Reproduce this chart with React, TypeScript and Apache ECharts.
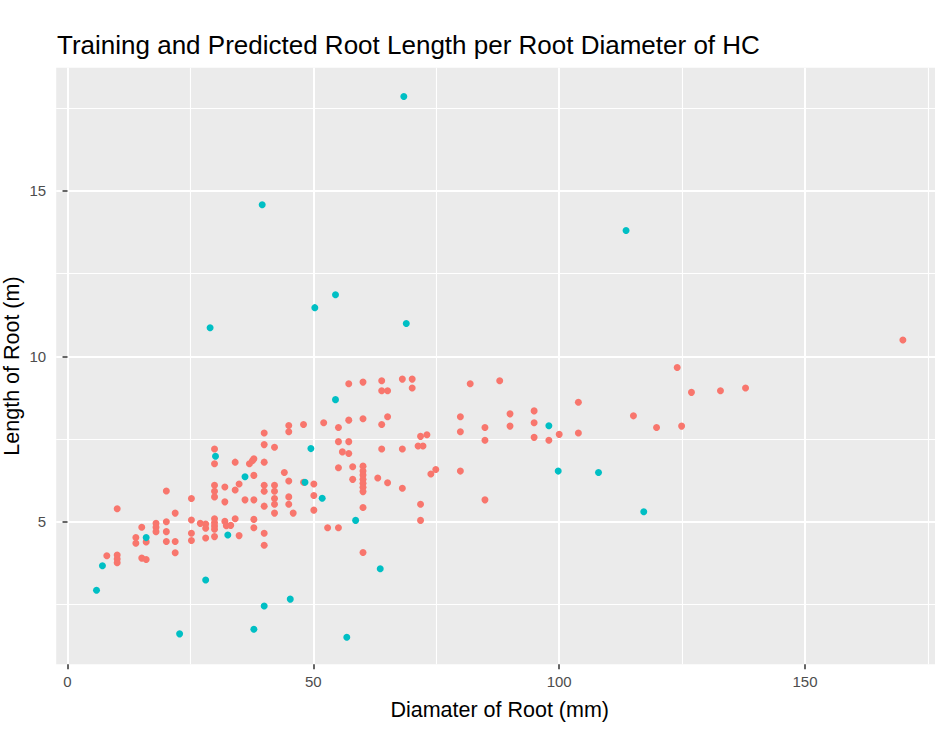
import React, { useEffect, useRef } from "react";
import * as echarts from "echarts";

// Training (observed) points: diameter (mm) and length (m)
const trainDiameter = [
  29.9, 29.9, 34.1, 37.0, 37.6, 37.9, 40.0, 40.0, 42.1, 37.9, 44.1, 45.0, 48.0, 20.1, 10.1, 25.2, 21.9,
  29.9, 29.9, 29.9, 32.0, 32.0, 34.1, 34.9, 36.1, 37.9, 40.0, 40.0, 40.0, 42.1, 42.1, 42.1, 42.1, 42.1,
  45.0, 45.0, 45.9, 15.1, 18.0, 18.0, 18.0, 20.1, 20.1, 20.1, 21.9, 21.9, 13.9, 13.9, 16.0, 8.0, 10.1,
  10.1, 10.1, 15.1, 16.0, 25.2, 25.2, 25.2, 27.0, 28.1, 28.1, 28.1, 29.9, 29.9, 29.9, 29.9, 29.9, 32.0,
  32.3, 33.2, 34.1, 34.9, 37.9, 37.9, 40.0, 40.0,
  57.2, 60.1, 63.9, 63.9, 65.1, 68.1, 70.1, 70.1, 40.0, 45.0, 45.0, 48.0, 52.1, 55.1, 57.2, 60.1, 63.9,
  65.1, 55.1, 57.2, 55.9, 57.2, 63.9, 68.1, 71.8, 73.1, 71.3, 72.3, 50.1, 50.1, 50.1, 52.9, 55.1, 60.1,
  60.1, 60.1, 60.1, 60.1, 60.1, 60.1, 60.1, 60.1, 58.0, 55.1, 58.0, 63.1, 65.1, 68.1, 71.8, 71.8,
  81.9, 87.9, 124.0, 126.9, 132.8, 137.9, 79.9, 79.9, 84.9, 84.9, 90.0, 90.0, 94.9, 94.9, 94.9, 97.9,
  100.0, 103.9, 103.9, 115.1, 119.8, 124.9, 73.9, 74.9, 79.9, 84.9, 169.9,
];
const trainLength = [
  7.2, 6.75, 6.8, 6.75, 6.84, 6.9, 7.33, 6.8, 7.25, 6.4, 6.49, 6.23, 6.19, 5.93, 5.39, 5.7, 5.26,
  6.1, 5.92, 5.75, 6.05, 5.6, 5.96, 6.14, 5.66, 5.66, 6.1, 5.92, 5.47, 6.1, 5.92, 5.7, 5.53, 5.26,
  5.75, 5.53, 5.26, 4.83, 4.95, 4.83, 4.7, 5.0, 4.7, 4.4, 4.4, 4.06, 4.52, 4.35, 4.39, 3.97, 3.99,
  3.87, 3.76, 3.9, 3.86, 5.05, 4.65, 4.43, 4.95, 4.93, 4.8, 4.51, 5.09, 4.97, 4.87, 4.77, 4.55, 5.01,
  4.88, 4.89, 5.09, 4.58, 5.07, 4.82, 4.65, 4.29,
  9.17, 9.22, 9.26, 8.96, 8.96, 9.31, 9.31, 9.04, 7.68, 7.91, 7.72, 7.94, 7.99, 7.85, 8.07, 8.11, 7.94,
  8.17, 7.42, 7.42, 7.11, 7.06, 7.2, 7.2, 7.58, 7.63, 7.29, 7.29, 6.14, 5.79, 5.35, 4.82, 4.82, 4.07,
  5.43, 6.68, 6.53, 6.41, 6.28, 6.16, 6.04, 5.91, 6.66, 6.63, 6.28, 6.32, 6.18, 6.01, 5.53, 5.04,
  9.17, 9.26, 9.66, 8.91, 8.96, 9.04, 8.17, 7.72, 7.85, 7.46, 8.26, 7.89, 8.35, 7.99, 7.55, 7.46,
  7.64, 8.61, 7.68, 8.2, 7.85, 7.89, 6.44, 6.58, 6.53, 5.66, 10.49,
];

// Predicted points
const predDiameter = [
  68.4, 39.6, 113.6, 54.5, 50.3, 29.0, 68.9, 54.5, 97.9, 30.1, 49.5, 36.1, 48.3, 51.8, 58.6, 99.8,
  108.0, 117.2, 16.0, 32.6, 7.1, 5.9, 28.1, 45.3, 40.0, 37.9, 22.8, 63.6, 56.8,
];
const predLength = [
  17.85, 14.58, 13.8, 11.86, 11.47, 10.86, 10.99, 8.69, 7.9, 6.98, 7.21, 6.36, 6.19, 5.71, 5.04, 6.53,
  6.49, 5.3, 4.52, 4.6, 3.67, 2.93, 3.24, 2.66, 2.45, 1.75, 1.61, 3.58, 1.51,
];

const xMajorTicks = [0, 50, 100, 150];
const xMinorTicks = [25, 75, 125, 175];
const yMajorTicks = [5, 10, 15];
const yMinorTicks = [2.5, 7.5, 12.5, 17.5];

const TITLE = "Training and Predicted Root Length per Root Diameter of HC";
const X_TITLE = "Diamater of Root (mm)";
const Y_TITLE = "Length of Root (m)";

export default function App() {
  const ref = useRef<HTMLDivElement>(null);

  useEffect(() => {
    if (!ref.current) return;
    const chart = echarts.init(ref.current, undefined, { renderer: "svg" });
    const font = "'Liberation Sans', Arial, sans-serif";
    const xMin = -2.3;
    const xMax = 178.1;
    const yMin = 0.69;
    const yMax = 18.72;

    const trainData = trainDiameter.map((d, i) => [d, trainLength[i]]);
    const predData = predDiameter.map((d, i) => [d, predLength[i]]);

    chart.setOption({
      animation: false,
      backgroundColor: "#ffffff",
      title: {
        text: TITLE,
        left: 52,
        top: 27,
        textStyle: { fontFamily: font, fontSize: 26, fontWeight: "normal", color: "#000000" },
      },
      grid: [
        {
          left: 56.2,
          top: 67.8,
          width: 887,
          height: 596.5,
          containLabel: false,
          outerBoundsMode: "none",
          show: true,
          backgroundColor: "#EBEBEB",
          borderWidth: 0,
        },
      ],
      xAxis: [
        {
          type: "value",
          min: xMin,
          max: xMax,
          position: "bottom",
          name: X_TITLE,
          nameLocation: "middle",
          nameGap: 35,
          nameMoveOverlap: false,
          nameTextStyle: { fontFamily: font, fontSize: 21.5, color: "#000000" },
          axisLine: { show: false },
          axisTick: {
            show: true,
            length: 5,
            customValues: xMajorTicks,
            lineStyle: { color: "#333333", width: 1.5 },
          },
          axisLabel: {
            customValues: xMajorTicks,
            color: "#4D4D4D",
            fontFamily: font,
            fontSize: 15,
            margin: 10,
          },
          splitLine: { show: true, lineStyle: { color: "#FFFFFF", width: 2 } },
        },
        {
          type: "value",
          min: xMin,
          max: xMax,
          position: "top",
          axisLine: { show: false },
          axisTick: { show: false, customValues: xMinorTicks },
          axisLabel: { show: false, customValues: xMinorTicks },
          splitLine: { show: true, lineStyle: { color: "#FFFFFF", width: 1.1 } },
        },
      ],
      yAxis: [
        {
          type: "value",
          min: yMin,
          max: yMax,
          position: "left",
          name: Y_TITLE,
          nameLocation: "middle",
          nameRotate: 90,
          nameGap: 33,
          nameMoveOverlap: false,
          nameTextStyle: { fontFamily: font, fontSize: 21.5, color: "#000000" },
          axisLine: { show: false },
          axisTick: {
            show: true,
            length: 5,
            customValues: yMajorTicks,
            lineStyle: { color: "#333333", width: 1.5 },
          },
          axisLabel: {
            customValues: yMajorTicks,
            color: "#4D4D4D",
            fontFamily: font,
            fontSize: 15,
            margin: 10,
          },
          splitLine: { show: true, lineStyle: { color: "#FFFFFF", width: 2 } },
        },
        {
          type: "value",
          min: yMin,
          max: yMax,
          position: "right",
          axisLine: { show: false },
          axisTick: { show: false, customValues: yMinorTicks },
          axisLabel: { show: false, customValues: yMinorTicks },
          splitLine: { show: true, lineStyle: { color: "#FFFFFF", width: 1.1 } },
        },
      ],
      series: [
        {
          name: "Training",
          type: "scatter",
          xAxisIndex: 0,
          yAxisIndex: 0,
          data: trainData,
          symbol: "circle",
          symbolSize: 7,
          itemStyle: { color: "#F8766D", opacity: 1 },
          emphasis: { disabled: true },
        },
        {
          name: "Predicted",
          type: "scatter",
          xAxisIndex: 0,
          yAxisIndex: 0,
          data: predData,
          symbol: "circle",
          symbolSize: 7,
          itemStyle: { color: "#00BFC4", opacity: 1 },
          emphasis: { disabled: true },
        },
      ],
    });

    return () => {
      chart.dispose();
    };
  }, []);

  return (
    <div
      style={{
        position: "fixed",
        left: 0,
        top: 0,
        width: 935,
        height: 730,
        overflow: "hidden",
        background: "#ffffff",
      }}
    >
      <div ref={ref} style={{ width: 960, height: 730 }} />
    </div>
  );
}
